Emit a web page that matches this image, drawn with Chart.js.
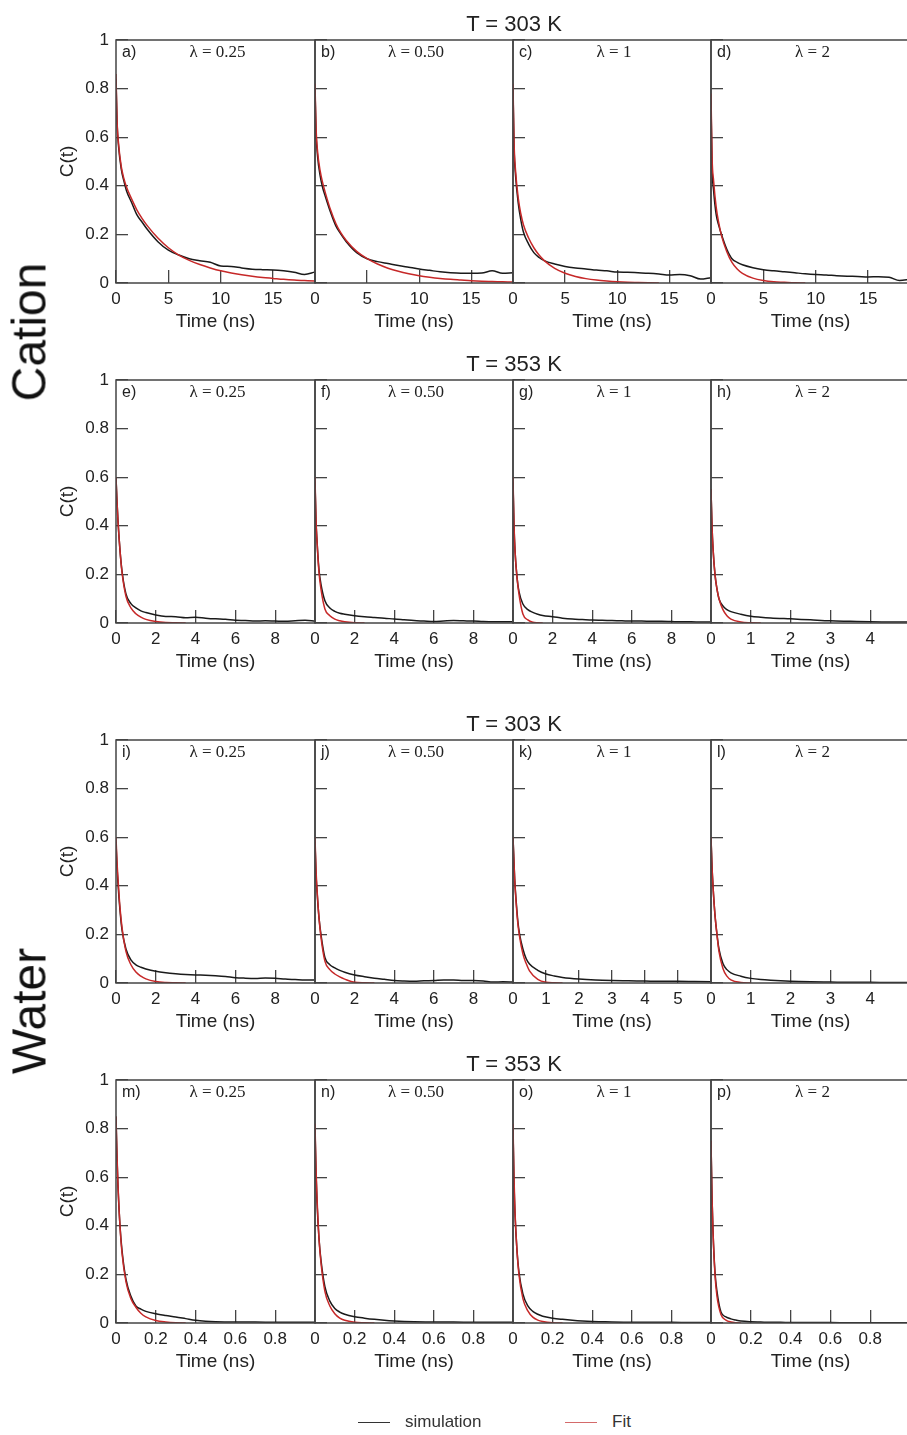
<!DOCTYPE html>
<html>
<head>
<meta charset="utf-8">
<script src="https://cdn.jsdelivr.net/npm/chart.js@4.4.1/dist/chart.umd.min.js"></script>
<style>
  html, body { margin: 0; padding: 0; background: #fff; }
  #fig { position: relative; width: 907px; height: 1435px; overflow: hidden; font-family: "Liberation Sans", Arial, Helvetica, sans-serif; color: #222; }
  #fig canvas { position: absolute; }
  .rowTitle { position: absolute; font-size: 22px; transform: translate(-50%, -50%); white-space: nowrap; }
  .side { position: absolute; font-size: 48px; color: #111; transform: translate(-50%, -50%) rotate(-90deg); white-space: nowrap; }
  .legend { position: absolute; top: 1412px; font-size: 17px; color: #333; display: flex; align-items: center; }
  .legend span.line { display: inline-block; width: 32px; height: 0; border-top: 1.5px solid; margin-right: 15px; }
</style>
</head>
<body>
<div id="fig"></div>
<script>
// time samples (ns)
const timeLong = [0, 0.1, 0.25, 0.5, 0.75, 1, 1.5, 2, 2.5, 3, 4, 5, 6, 7, 8, 9, 10, 11, 12, 13, 14, 15, 16, 17, 18, 19];
const timeMid = [0, 0.05, 0.1, 0.2, 0.3, 0.5, 0.75, 1, 1.25, 1.5, 2, 2.5, 3, 3.5, 4, 4.5, 5, 5.5, 6, 6.5, 7, 7.5, 8, 8.5, 9, 9.5, 10];
const timeK = [0, 0.05, 0.1, 0.15, 0.2, 0.3, 0.4, 0.5, 0.75, 1, 1.25, 1.5, 2, 2.5, 3, 3.5, 4, 4.5, 5, 5.5, 6];
const timeShort = [0, 0.025, 0.05, 0.1, 0.15, 0.2, 0.3, 0.4, 0.5, 0.75, 1, 1.25, 1.5, 2, 2.5, 3, 3.5, 4, 4.5, 5];
const timeFast = [0, 0.005, 0.01, 0.02, 0.03, 0.05, 0.075, 0.1, 0.125, 0.15, 0.2, 0.25, 0.3, 0.35, 0.4, 0.45, 0.5, 0.6, 0.7, 0.8, 0.9, 1];

// Cation, T = 303 K
const simA = [0.84, 0.66, 0.56, 0.47, 0.42, 0.38, 0.33, 0.28, 0.25, 0.22, 0.17, 0.135, 0.115, 0.1, 0.092, 0.085, 0.07, 0.068, 0.062, 0.057, 0.055, 0.054, 0.05, 0.044, 0.035, 0.045];
const fitA = [0.86, 0.67, 0.57, 0.48, 0.43, 0.395, 0.345, 0.3, 0.265, 0.235, 0.185, 0.145, 0.115, 0.093, 0.076, 0.062, 0.05, 0.041, 0.034, 0.028, 0.023, 0.019, 0.015, 0.012, 0.01, 0.008];
const simB = [0.8, 0.62, 0.52, 0.44, 0.39, 0.355, 0.29, 0.235, 0.2, 0.17, 0.125, 0.1, 0.088, 0.08, 0.072, 0.065, 0.058, 0.052, 0.046, 0.042, 0.04, 0.04, 0.041, 0.05, 0.04, 0.042];
const fitB = [0.82, 0.64, 0.54, 0.46, 0.41, 0.37, 0.3, 0.245, 0.205, 0.175, 0.13, 0.1, 0.078, 0.061, 0.048, 0.038, 0.03, 0.024, 0.019, 0.015, 0.012, 0.009, 0.007, 0.006, 0.005, 0.004];
const simC = [0.8, 0.56, 0.44, 0.33, 0.26, 0.21, 0.16, 0.125, 0.105, 0.092, 0.078, 0.068, 0.062, 0.058, 0.053, 0.05, 0.045, 0.044, 0.042, 0.04, 0.037, 0.033, 0.035, 0.03, 0.016, 0.022];
const fitC = [0.82, 0.58, 0.46, 0.35, 0.285, 0.24, 0.185, 0.145, 0.115, 0.092, 0.06, 0.04, 0.027, 0.018, 0.012, 0.008, 0.005, 0.003, 0.002, 0.001, 0];
const simD = [0.75, 0.48, 0.38, 0.28, 0.235, 0.2, 0.14, 0.1, 0.085, 0.075, 0.063, 0.055, 0.05, 0.046, 0.042, 0.038, 0.035, 0.033, 0.03, 0.028, 0.027, 0.025, 0.026, 0.024, 0.01, 0.015];
const fitD = [0.78, 0.52, 0.42, 0.31, 0.245, 0.195, 0.13, 0.085, 0.058, 0.04, 0.02, 0.01, 0.005, 0.003, 0.001, 0];

// Cation, T = 353 K
const simE = [0.6, 0.5, 0.42, 0.3, 0.215, 0.12, 0.08, 0.062, 0.05, 0.043, 0.033, 0.027, 0.026, 0.022, 0.024, 0.02, 0.017, 0.015, 0.011, 0.01, 0.008, 0.009, 0.008, 0.007, 0.009, 0.011, 0.008];
const fitE = [0.6, 0.5, 0.42, 0.3, 0.21, 0.11, 0.062, 0.038, 0.024, 0.015, 0.006, 0.002, 0.001, 0];
const simF = [0.58, 0.42, 0.34, 0.22, 0.16, 0.092, 0.062, 0.048, 0.04, 0.036, 0.03, 0.026, 0.023, 0.02, 0.016, 0.013, 0.01, 0.008, 0.006, 0.008, 0.01, 0.009, 0.008, 0.006, 0.005, 0.005, 0.005];
const fitF = [0.6, 0.43, 0.34, 0.21, 0.14, 0.058, 0.03, 0.016, 0.009, 0.005, 0.001, 0];
const simG = [0.58, 0.4, 0.3, 0.19, 0.13, 0.078, 0.055, 0.044, 0.036, 0.031, 0.026, 0.02, 0.016, 0.014, 0.012, 0.011, 0.01, 0.009, 0.008, 0.008, 0.007, 0.007, 0.006, 0.005, 0.005, 0.004, 0.004];
const fitG = [0.6, 0.41, 0.3, 0.19, 0.12, 0.037, 0.013, 0.003, 0.001, 0];
const simH = [0.55, 0.4, 0.31, 0.2, 0.14, 0.1, 0.07, 0.055, 0.047, 0.036, 0.028, 0.024, 0.021, 0.017, 0.013, 0.009, 0.007, 0.005, 0.004, 0.004];
const fitH = [0.55, 0.4, 0.31, 0.2, 0.14, 0.1, 0.055, 0.03, 0.016, 0.004, 0.001, 0];

// Water, T = 303 K
const simI = [0.58, 0.48, 0.41, 0.3, 0.22, 0.14, 0.095, 0.075, 0.065, 0.058, 0.048, 0.042, 0.038, 0.035, 0.033, 0.032, 0.03, 0.027, 0.022, 0.02, 0.019, 0.021, 0.02, 0.016, 0.014, 0.012, 0.012];
const fitI = [0.6, 0.5, 0.43, 0.31, 0.23, 0.13, 0.075, 0.045, 0.028, 0.017, 0.006, 0.002, 0.001, 0];
const simJ = [0.58, 0.45, 0.38, 0.27, 0.2, 0.105, 0.075, 0.062, 0.052, 0.044, 0.033, 0.026, 0.02, 0.015, 0.01, 0.008, 0.007, 0.009, 0.01, 0.012, 0.012, 0.01, 0.01, 0.008, 0.004, 0.005, 0.004];
const fitJ = [0.6, 0.47, 0.39, 0.27, 0.19, 0.09, 0.055, 0.037, 0.025, 0.016, 0.003, 0.001, 0];
const simK = [0.6, 0.43, 0.33, 0.25, 0.2, 0.14, 0.1, 0.078, 0.052, 0.037, 0.029, 0.023, 0.016, 0.012, 0.01, 0.009, 0.008, 0.007, 0.007, 0.006, 0.005];
const fitK = [0.6, 0.43, 0.32, 0.24, 0.19, 0.12, 0.08, 0.05, 0.015, 0.003, 0.001, 0];
const simL = [0.6, 0.48, 0.4, 0.28, 0.2, 0.14, 0.08, 0.055, 0.042, 0.028, 0.019, 0.014, 0.011, 0.007, 0.005, 0.004, 0.003, 0.003, 0.002, 0.002];
const fitL = [0.6, 0.48, 0.4, 0.28, 0.2, 0.13, 0.06, 0.028, 0.013, 0.002, 0];

// Water, T = 353 K
const simM = [0.85, 0.68, 0.56, 0.4, 0.3, 0.18, 0.11, 0.07, 0.057, 0.048, 0.038, 0.031, 0.025, 0.018, 0.011, 0.007, 0.005, 0.004, 0.004, 0.003, 0.003, 0.003];
const fitM = [0.85, 0.69, 0.57, 0.4, 0.29, 0.17, 0.1, 0.065, 0.04, 0.025, 0.01, 0.004, 0.001, 0];
const simN = [0.8, 0.62, 0.5, 0.35, 0.26, 0.15, 0.09, 0.06, 0.045, 0.036, 0.026, 0.02, 0.015, 0.011, 0.008, 0.006, 0.005, 0.004, 0.004, 0.003, 0.003, 0.003];
const fitN = [0.82, 0.64, 0.52, 0.35, 0.25, 0.13, 0.07, 0.038, 0.02, 0.011, 0.003, 0.001, 0];
const simO = [0.8, 0.58, 0.45, 0.3, 0.21, 0.12, 0.07, 0.048, 0.036, 0.028, 0.02, 0.015, 0.011, 0.008, 0.006, 0.005, 0.004, 0.003, 0.003, 0.003, 0.002, 0.002];
const fitO = [0.82, 0.6, 0.46, 0.3, 0.2, 0.1, 0.05, 0.024, 0.012, 0.006, 0.001, 0];
const simP = [0.75, 0.52, 0.38, 0.21, 0.13, 0.045, 0.025, 0.017, 0.012, 0.008, 0.005, 0.004, 0.003, 0.003, 0.002, 0.002, 0.002, 0.002, 0.001, 0.001, 0.001, 0.001];
const fitP = [0.75, 0.52, 0.38, 0.2, 0.11, 0.035, 0.012, 0.004, 0.001, 0];

const panelLetters = ['a)', 'b)', 'c)', 'd)', 'e)', 'f)', 'g)', 'h)', 'i)', 'j)', 'k)', 'l)', 'm)', 'n)', 'o)', 'p)'];
const lambdaLabels = ['λ = 0.25', 'λ = 0.50', 'λ = 1', 'λ = 2'];
const rowTitles = ['T = 303 K', 'T = 353 K', 'T = 303 K', 'T = 353 K'];
const xMax = [19, 19, 19, 19, 10, 10, 10, 5, 10, 10, 6, 5, 1, 1, 1, 1];
const xStep = [5, 5, 5, 5, 2, 2, 2, 1, 2, 2, 1, 1, 0.2, 0.2, 0.2, 0.2];
const times = [timeLong, timeLong, timeLong, timeLong, timeMid, timeMid, timeMid, timeShort,
               timeMid, timeMid, timeK, timeShort, timeFast, timeFast, timeFast, timeFast];
const sims = [simA, simB, simC, simD, simE, simF, simG, simH, simI, simJ, simK, simL, simM, simN, simO, simP];
const fits = [fitA, fitB, fitC, fitD, fitE, fitF, fitG, fitH, fitI, fitJ, fitK, fitL, fitM, fitN, fitO, fitP];

// layout
const colLeft = [116, 315, 513, 711];
const colWidth = [199, 198, 198, 199];
const rowTop = [40, 380, 740, 1080];
const plotH = 243;
const FONT = '"Liberation Sans", Arial, Helvetica, sans-serif';
const fig = document.getElementById('fig');

const framePlugin = {
  id: 'frame',
  afterDatasetsDraw(chart, args, opts) {
    const {ctx, chartArea: a} = chart;
    ctx.save();
    ctx.strokeStyle = '#444';
    ctx.lineWidth = 1.5;
    ctx.strokeRect(a.left, a.top, a.right - a.left, a.bottom - a.top);
    ctx.fillStyle = '#222';
    ctx.textBaseline = 'middle';
    ctx.font = '16px ' + FONT;
    ctx.fillText(opts.letter, a.left + 6, a.top + 13);
    ctx.font = '17px "Liberation Serif", "Times New Roman", serif';
    ctx.textAlign = 'center';
    ctx.fillText(opts.lambda, (a.left + a.right) / 2 + 2, a.top + 13);
    ctx.restore();
  }
};

const toPoints = (t, ys) => ys.map((y, i) => ({x: t[i], y: y}));
const fmt = v => String(Math.round(v * 100) / 100);

sims.forEach((sim, i) => {
  const row = Math.floor(i / 4), col = i % 4;
  const first = col === 0;
  const padL = first ? 2 : 10, padR = 10, padT = 14, padB = 2;
  const yW = first ? 60 : 0, xH = 50;
  const w = colWidth[col];

  const canvas = document.createElement('canvas');
  canvas.width = padL + yW + w + padR;
  canvas.height = padT + plotH + xH + padB;
  canvas.style.left = (colLeft[col] - yW - padL) + 'px';
  canvas.style.top = (rowTop[row] - padT) + 'px';
  fig.appendChild(canvas);

  const max = xMax[i];
  new Chart(canvas.getContext('2d'), {
    type: 'line',
    data: {
      datasets: [
        { label: 'Fit', data: toPoints(times[i], fits[i]), borderColor: '#c62828', borderWidth: 1.5,
          pointRadius: 0, cubicInterpolationMode: 'monotone', fill: false },
        { label: 'simulation', data: toPoints(times[i], sim), borderColor: '#1a1a1a', borderWidth: 1.5,
          pointRadius: 0, cubicInterpolationMode: 'monotone', fill: false }
      ]
    },
    options: {
      responsive: false,
      animation: false,
      layout: { padding: {left: padL, right: padR, top: padT, bottom: padB}, autoPadding: false },
      plugins: {
        legend: { display: false },
        tooltip: { enabled: false },
        frame: { letter: panelLetters[i], lambda: lambdaLabels[col] }
      },
      scales: {
        x: {
          type: 'linear', min: 0, max: max,
          border: { display: false },
          grid: { drawOnChartArea: false, tickLength: -13, color: '#444', lineWidth: 1.3 },
          ticks: {
            stepSize: xStep[i], padding: 19, autoSkip: false, maxRotation: 0,
            color: '#222', font: { size: 17, family: FONT },
            callback: v => (v >= max - 1e-9 ? '' : fmt(v))
          },
          title: { display: true, text: 'Time (ns)', color: '#222', padding: 0, font: { size: 19, family: FONT } },
          afterFit: s => { s.height = xH; s.paddingLeft = 0; s.paddingRight = 0; }
        },
        y: {
          min: 0, max: 1,
          border: { display: false },
          grid: { drawOnChartArea: false, tickLength: -12, color: '#444', lineWidth: 1.3 },
          ticks: { display: first, stepSize: 0.2, padding: 19, color: '#222', font: { size: 17, family: FONT }, callback: v => fmt(v) },
          title: { display: first, text: 'C(t)', color: '#222', padding: 0, font: { size: 19, family: FONT } },
          afterFit: s => { s.width = yW; s.paddingTop = 0; s.paddingBottom = 0; }
        }
      }
    },
    plugins: [framePlugin]
  });
});

// row titles
rowTitles.forEach((txt, r) => {
  const d = document.createElement('div');
  d.className = 'rowTitle';
  d.textContent = txt;
  d.style.left = '514px';
  d.style.top = (rowTop[r] - 16) + 'px';
  fig.appendChild(d);
});

// side labels
[['Cation', 332], ['Water', 1011]].forEach(([txt, y]) => {
  const d = document.createElement('div');
  d.className = 'side';
  d.textContent = txt;
  d.style.left = '29px';
  d.style.top = y + 'px';
  fig.appendChild(d);
});

// legend
[['simulation', '#333', 358], ['Fit', '#d46a6a', 565]].forEach(([txt, color, x]) => {
  const d = document.createElement('div');
  d.className = 'legend';
  d.style.left = x + 'px';
  d.innerHTML = '<span class="line" style="border-color:' + color + '"></span>' + txt;
  fig.appendChild(d);
});
</script>
</body>
</html>
